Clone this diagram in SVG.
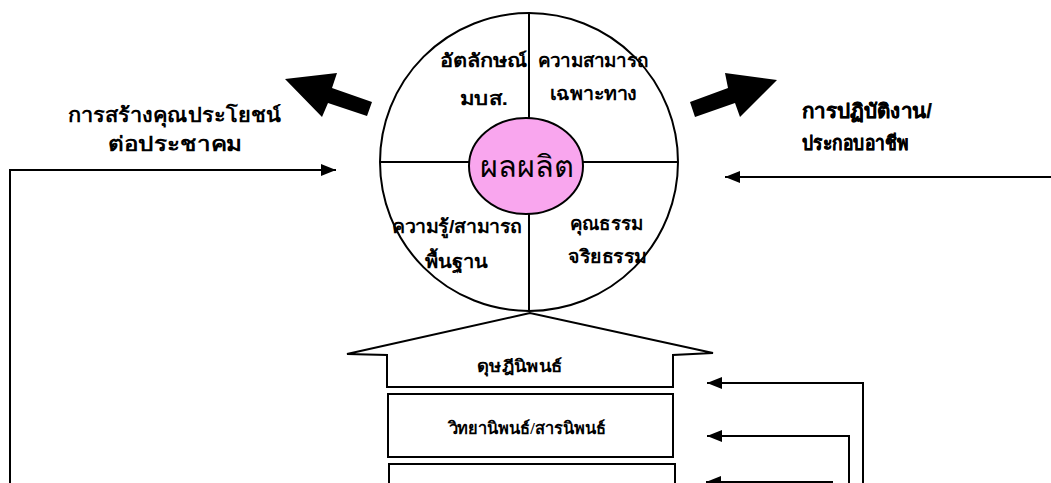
<svg xmlns="http://www.w3.org/2000/svg" width="1051" height="483" viewBox="0 0 1051 483">
<defs>
<style>
.ln{fill:none;stroke:#000;stroke-width:2}
.lb{font-family:"Liberation Sans","Noto Sans","DejaVu Sans",sans-serif;font-weight:bold;font-size:18.5px;fill:#000;text-anchor:middle}
.sd{font-family:"Liberation Sans","Noto Sans","DejaVu Sans",sans-serif;font-weight:bold;font-size:20px;fill:#000}
.sr{font-family:"Liberation Sans","Noto Sans","DejaVu Sans",sans-serif;font-weight:bold;font-size:20px;fill:#000;stroke:#000;stroke-width:0.25}
.bx{font-family:"Liberation Serif","DejaVu Serif",serif;font-weight:bold;font-size:16.5px;fill:#000;text-anchor:middle}
.big{fill:#000;stroke:none}
</style>
<marker id="ah" viewBox="0 0 15 12" refX="15" refY="6" markerWidth="15" markerHeight="12" markerUnits="userSpaceOnUse" orient="auto">
<path d="M0,0 L15,6 L0,12 Z" fill="#000"/>
</marker>
</defs>
<rect width="1051" height="483" fill="#fff"/>
<g id="wheel">
<circle cx="529" cy="162" r="149" class="ln"/>
<line x1="529" y1="13" x2="529" y2="118" class="ln"/>
<line x1="529" y1="214" x2="529" y2="311" class="ln"/>
<line x1="380" y1="162" x2="469" y2="162" class="ln"/>
<line x1="583" y1="162" x2="678" y2="162" class="ln"/>
</g>
<g id="product">
<ellipse cx="526" cy="166" rx="57" ry="48" fill="#F9A6EE" stroke="#000" stroke-width="2"/>
<text x="526.5" y="177" font-family="Liberation Sans,'Noto Sans','DejaVu Sans',sans-serif" font-size="30" fill="#000" text-anchor="middle" textLength="93" lengthAdjust="spacingAndGlyphs">ผลผลิต</text>
</g>
<g id="identity">
<text class="lb" x="483.5" y="67" textLength="87" lengthAdjust="spacingAndGlyphs">อัตลักษณ์</text>
<text class="lb" x="484" y="105" textLength="48" lengthAdjust="spacingAndGlyphs">มบส.</text>
</g>
<g id="specific">
<text class="lb" x="593" y="67" textLength="110" lengthAdjust="spacingAndGlyphs">ความสามารถ</text>
<text class="lb" x="593.5" y="100" textLength="87" lengthAdjust="spacingAndGlyphs">เฉพาะทาง</text>
</g>
<g id="basic">
<text class="lb" x="457" y="233" textLength="130" lengthAdjust="spacingAndGlyphs">ความรู้/สามารถ</text>
<text class="lb" x="456.5" y="268" textLength="63" lengthAdjust="spacingAndGlyphs">พื้นฐาน</text>
</g>
<g id="ethics">
<text class="lb" x="606.5" y="230" textLength="73" lengthAdjust="spacingAndGlyphs">คุณธรรม</text>
<text class="lb" x="607.5" y="263" textLength="79" lengthAdjust="spacingAndGlyphs">จริยธรรม</text>
</g>
<g id="benefit">
<text class="sd" x="68" y="122" textLength="213" lengthAdjust="spacingAndGlyphs">การสร้างคุณประโยชน์</text>
<text class="sd" x="108" y="151" textLength="134" lengthAdjust="spacingAndGlyphs">ต่อประชาคม</text>
</g>
<g id="career">
<text class="sr" x="802" y="118" textLength="130" lengthAdjust="spacingAndGlyphs">การปฏิบัติงาน/</text>
<text class="sr" x="802" y="150" textLength="106" lengthAdjust="spacingAndGlyphs">ประกอบอาชีพ</text>
</g>
<g id="doctoral">
<path d="M530,313 L347,354 L387,355 L387,387 L673,387 L673,355 L713,353 Z" class="ln"/>
<text class="bx" x="519.5" y="372" textLength="85" lengthAdjust="spacingAndGlyphs">ดุษฎีนิพนธ์</text>
</g>
<g id="thesis">
<rect x="388" y="394" width="285" height="63" class="ln" stroke-width="2.5"/>
<text class="bx" x="527" y="434" textLength="157" lengthAdjust="spacingAndGlyphs">วิทยานิพนธ์/สารนิพนธ์</text>
</g>
<g id="project">
<rect x="389" y="464" width="286" height="40" class="ln" stroke-width="2.5"/>
<text class="bx" x="537" y="500">บัณฑิตนิพนธ์</text>
</g>
<g id="connectors">
<path d="M285,79 L337,73 L332,88 L372,102 L367,116 L328,103 L322,117 Z" class="big"/>
<path d="M690,102 L728,88 L725,73 L777,80 L740,117 L735,103 L695,117 Z" class="big"/>
<polyline points="10,483 10,170 336,170" class="ln" marker-end="url(#ah)"/>
<line x1="1051" y1="177" x2="725" y2="177" class="ln" marker-end="url(#ah)"/>
<polyline points="863,483 863,383 707,383" class="ln" marker-end="url(#ah)"/>
<polyline points="849,483 849,436 707,436" class="ln" marker-end="url(#ah)"/>
<line x1="833" y1="482" x2="706" y2="482" class="ln" marker-end="url(#ah)"/>
</g>
</svg>
